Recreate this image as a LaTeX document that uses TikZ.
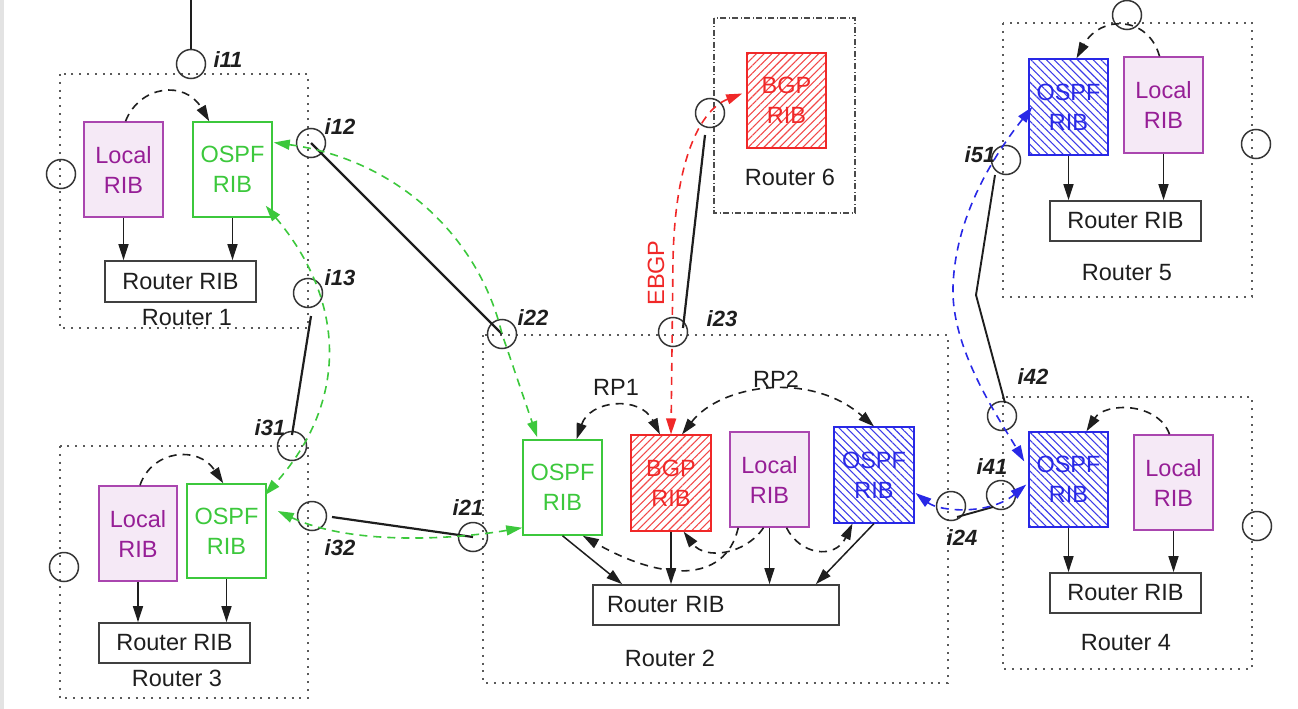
\documentclass[tikz,border=0pt]{standalone}
\usepackage{fontspec}
\setmainfont{Liberation Sans}
\usetikzlibrary{arrows.meta,patterns.meta,calc}
\definecolor{grn}{RGB}{60,200,60}
\definecolor{purpD}{RGB}{170,70,175}
\definecolor{purpT}{RGB}{150,30,150}
\definecolor{purpF}{RGB}{245,233,246}
\definecolor{redc}{RGB}{240,40,40}
\definecolor{bluec}{RGB}{40,40,230}
\definecolor{ink}{RGB}{30,30,30}
\definecolor{dotc}{RGB}{90,90,90}
\newcommand{\ribfont}{\fontsize{23.5}{30}\selectfont}
\newcommand{\labfont}{\fontsize{22}{26}\selectfont\bfseries\itshape}
\begin{document}
\begin{tikzpicture}[x=1pt,y=-1pt,
  >={Triangle[length=16pt,width=10pt]},
  every node/.style={font=\ribfont, text=ink},
  router/.style={draw=dotc, line width=2.2pt, dash pattern=on 2pt off 5.8pt},
  router6/.style={draw=ink!80, line width=1.5pt, dash pattern=on 6pt off 2.5pt on 1pt off 2.5pt},
  rib/.style={minimum width=79pt, minimum height=95pt, inner sep=0pt, align=center, line width=1.5pt},
  localrib/.style={rib, draw=purpD, fill=purpF, text=purpT},
  ospfg/.style={rib, draw=grn, fill=white, text=grn},
  bgprib/.style={rib, draw=redc, pattern={Lines[angle=45,distance=5.5pt,line width=1.1pt]}, pattern color=redc!85, text=redc},
  ospfb/.style={rib, draw=bluec, pattern={Lines[angle=-45,distance=5.5pt,line width=1.1pt]}, pattern color=bluec!90, text=bluec},
  rrib/.style={draw=ink!85, line width=1.7pt, minimum width=151pt, minimum height=41pt, inner sep=0pt, fill=white},
  ifc/.style={circle, draw=ink!90, line width=1.5pt, minimum size=29pt, inner sep=0pt},
  lab/.style={font=\labfont, inner sep=0pt},
  link/.style={draw=ink, line width=2.2pt},
  feed/.style={draw=ink, line width=1.5pt, ->},
  dsh/.style={line width=1.6pt, dash pattern=on 8pt off 6pt},
  blk/.style={dsh, draw=ink},
  gd/.style={dsh, draw=grn, <->, color=grn},
  rd/.style={dsh, draw=redc, <->, color=redc},
  bd/.style={dsh, draw=bluec, <->, color=bluec}
]
\useasboundingbox (0,0) rectangle (1298,709);
\fill[gray!22] (0,0) rectangle (4,709);

% ---------------- Router boxes
\draw[router] (60,74) rectangle (308,328);
\draw[router] (60,446) rectangle (308,698);
\draw[router] (483,335) rectangle (948,683);
\draw[router] (1003,23) rectangle (1252,297);
\draw[router] (1003,397) rectangle (1252,669);
\draw[router6] (714,18) rectangle (855,213);

% ---------------- Router 1
\node[localrib] (r1l) at (123.5,169.5) {Local\\RIB};
\node[ospfg] (r1o) at (232.5,169.5) {OSPF\\RIB};
\node[rrib] (r1rr) at (180.5,281.5) {Router RIB};
\node (r1t) at (187,318) {Router 1};

% ---------------- Router 3
\node[localrib, minimum width=78pt] (r3l) at (138,533.5) {Local\\RIB};
\node[ospfg, minimum height=94pt] (r3o) at (226.5,531) {OSPF\\RIB};
\node[rrib, minimum height=40pt] (r3rr) at (174.5,643) {Router RIB};
\node (r3t) at (177,678) {Router 3};

% ---------------- Router 2
\node[ospfg] (r2g) at (562.5,487.5) {OSPF\\RIB};
\node[bgprib, minimum width=80pt, minimum height=96pt] (r2b) at (671,483) {BGP\\RIB};
\node[localrib] (r2l) at (769.5,479.5) {Local\\RIB};
\node[ospfb, minimum width=80pt, minimum height=96pt] (r2o) at (874,475) {OSPF\\RIB};
\node[rrib, minimum width=246pt, minimum height=40pt, text width=218pt, align=left] (r2rr) at (716,605) {Router RIB};
\node (r2t) at (670,658) {Router 2};
\node (rp1) at (616,387) {RP1};
\node (rp2) at (776,379) {RP2};

% ---------------- Router 6
\node[bgprib] (r6b) at (786.5,100.5) {BGP\\RIB};
\node (r6t) at (790,177) {Router 6};

% ---------------- Router 5
\node[ospfb, minimum height=96pt] (r5o) at (1068.5,107) {OSPF\\RIB};
\node[localrib, minimum height=96pt] (r5l) at (1163.5,105) {Local\\RIB};
\node[rrib, minimum height=40pt] (r5rr) at (1125.5,221) {Router RIB};
\node (r5t) at (1127,273) {Router 5};

% ---------------- Router 4
\node[ospfb] (r4o) at (1068.5,479.5) {OSPF\\RIB};
\node[localrib] (r4l) at (1173.5,482.5) {Local\\RIB};
\node[rrib, minimum height=40pt] (r4rr) at (1125.5,593) {Router RIB};
\node (r4t) at (1126,643) {Router 4};

% ---------------- Interfaces
\node[ifc] (i11) at (191,64) {};
\node[ifc] (c1l) at (61,174) {};
\node[ifc] (i12) at (311,143) {};
\node[ifc] (i13) at (308,293) {};
\node[ifc] (i31) at (292,446) {};
\node[ifc] (c3l) at (64,567) {};
\node[ifc] (i32) at (312,516) {};
\node[ifc] (i21) at (473,537) {};
\node[ifc] (i22) at (502,334) {};
\node[ifc] (i23) at (673,332) {};
\node[ifc] (c6) at (710,113) {};
\node[ifc] (i24) at (951,506) {};
\node[ifc] (i41) at (1001,495) {};
\node[ifc] (i42) at (1002,416) {};
\node[ifc] (i51) at (1006,160) {};
\node[ifc] (c5t) at (1127,15) {};
\node[ifc] (c5r) at (1256,144) {};
\node[ifc] (c4r) at (1257,526) {};

\node[lab] (li11) at (228,60) {i11};
\node[lab] (li12) at (340,127) {i12};
\node[lab] (li13) at (340,278) {i13};
\node[lab] (li22) at (533,318) {i22};
\node[lab] (li23) at (722,319) {i23};
\node[lab] (li21) at (468,508) {i21};
\node[lab] (li32) at (340,548) {i32};
\node[lab] (li31) at (270,428) {i31};
\node[lab] (li51) at (980,155) {i51};
\node[lab] (li42) at (1033,377) {i42};
\node[lab] (li41) at (992,467) {i41};
\node[lab] (li24) at (962,538) {i24};

\node[rotate=90, text=redc] (ebgp) at (656,273) {EBGP};

% ---------------- Physical links
\coordinate (t11) at (191,0);
\draw[link] (t11) -- (i11.north);
\draw[link] (i12.center) -- (i22.center);
\draw[link] ($(i13.center)+(3,23)$) -- ($(i31.center)+(0,-11)$);
\draw[link] ($(i32.center)+(20,1)$) -- (i21.center);
\draw[link] ($(c6.center)+(-5,22)$) -- ($(i23.center)+(10,-4)$);
\coordinate (bend45) at (976,295);
\draw[link, line width=1.9pt] ($(i51.center)+(-11,15)$) -- (bend45) -- ($(i42.center)+(3,-13)$);
\draw[link, line width=1.9pt] ($(i24.center)+(6,11)$) -- ($(i41.center)+(-8,12)$);

% ---------------- internal feeds
\draw[feed] (r1l.south) -- (r1l.south |- r1rr.north);
\draw[feed] (r1o.south) -- (r1o.south |- r1rr.north);
\draw[feed] (r3l.south) -- (r3l.south |- r3rr.north);
\draw[feed] (r3o.south) -- (r3o.south |- r3rr.north);
\draw[feed] (r5o.south) -- (r5o.south |- r5rr.north);
\draw[feed] (r5l.south) -- (r5l.south |- r5rr.north);
\draw[feed] (r4o.south) -- (r4o.south |- r4rr.north);
\draw[feed] (r4l.south) -- (r4l.south |- r4rr.north);
\draw[feed] (r2g.south) -- ($(r2rr.north west)+(30,0)$);
\draw[feed] (r2b.south) -- (r2b.south |- r2rr.north);
\draw[feed] (r2l.south) -- (r2l.south |- r2rr.north);
\draw[feed] (r2o.south) -- ($(r2rr.north east)+(-24,0)$);

% ---------------- local redistribution arcs
\draw[blk, ->] ($(r1l.north)+(2,0)$) .. controls (140,85) and (185,80) .. ($(r1o.north west)+(17,0)$);
\draw[blk, ->] ($(r3l.north)+(2,0)$) .. controls (152,450) and (198,445) .. ($(r3o.north west)+(37,0)$);
\draw[blk, ->] ($(r4l.north)+(-4,0)$) .. controls (1158,402) and (1105,402) .. ($(r4o.north)+(18,0)$);
\draw[blk, ->] ($(r5l.north)+(-4,0)$) .. controls (1148,15) and (1100,15) .. ($(r5o.north)+(8,0)$);

% Router 2 internal
\draw[blk, <->] ($(r2g.north)+(14,0)$) .. controls (590,400) and (640,395) .. ($(r2b.north)+(-11,0)$);
\draw[blk, <->] ($(r2b.north)+(11,0)$) .. controls (720,385) and (810,370) .. (r2o.north);
\draw[blk, ->] ($(r2l.south west)+(9,0)$) .. controls (725,585) and (660,580) .. ($(r2g.south east)+(-20,0)$);
\draw[blk, ->] ($(r2l.south)+(-6,0)$) .. controls (745,555) and (705,560) .. ($(r2b.south east)+(-28,0)$);
\draw[blk, ->] ($(r2l.south)+(17,0)$) .. controls (800,555) and (835,560) .. ($(r2o.south west)+(19,0)$);

% ---------------- OSPF / BGP sessions
\draw[gd] ($(r1o.east)+(1,-27)$) .. controls (400,160) and (480,240) .. (i22.center) -- ($(r2g.north west)+(15,-2)$);
\draw[gd] ($(r1o.south east)+(-7,-12)$) .. controls (345,300) and (350,400) .. ($(r3o.north east)+(-2,12)$);
\draw[gd] ($(r3o.east)+(11,-20)$) .. controls (350,545) and (450,540) .. ($(r2g.south west)+(0,-8)$);
\draw[rd] ($(r6b.west)+(-4,-7)$) .. controls (700,110) and (675,160) .. (673,260) -- (r2b.north);
\draw[bd] ($(r5o.west)+(4,0)$) .. controls (990,160) and (955,220) .. (953,287) .. controls (951,350) and (1000,420) .. ($(r4o.west)+(-4,-18)$);
\draw[bd] ($(r2o.east)+(1,18)$) .. controls (940,512) and (990,515) .. ($(r4o.west)+(-2,5)$);
\end{tikzpicture}
\end{document}
